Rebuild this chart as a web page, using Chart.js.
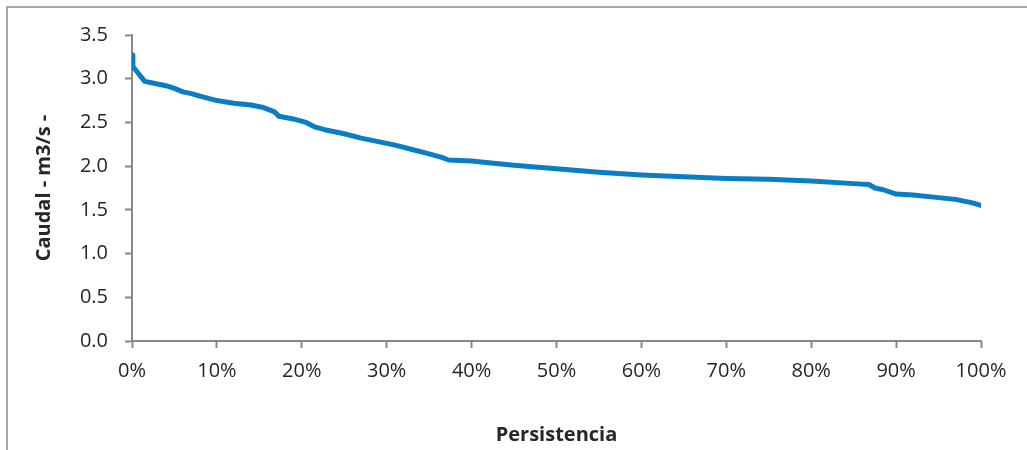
<!DOCTYPE html>
<html>
<head>
<meta charset="utf-8">
<script src="https://cdn.jsdelivr.net/npm/chart.js@4/dist/chart.umd.min.js"></script>
<style>
  html, body { margin: 0; padding: 0; background: #fff; }
  #wrap { width: 1027px; height: 450px; position: relative; }
</style>
</head>
<body>
<div id="wrap"><canvas id="c" width="1027" height="450"></canvas></div>
<script>
// Flow duration curve: persistence (% of time exceeded) vs. flow (m3/s)
const persistencia = [0, 0.1, 0.6, 1.0, 1.5, 2, 3, 4, 5, 6, 7, 8, 10, 12, 14, 15.5, 16.8, 17.3, 19, 20.5,
  21.5, 23, 25, 27, 29, 31, 33, 35, 36.5, 37.3, 40, 42, 45, 50, 55, 60, 65, 70, 75, 80,
  85, 86.8, 87.5, 88.5, 90, 92, 95, 97, 99, 100];
const caudal = [3.27, 3.14, 3.08, 3.03, 2.97, 2.96, 2.94, 2.92, 2.89, 2.85, 2.83, 2.80, 2.75, 2.72, 2.70, 2.67, 2.62, 2.57, 2.54, 2.50,
  2.45, 2.41, 2.37, 2.32, 2.28, 2.24, 2.19, 2.14, 2.10, 2.07, 2.06, 2.04, 2.01, 1.97, 1.93, 1.90, 1.88, 1.86, 1.85, 1.83,
  1.80, 1.79, 1.75, 1.73, 1.68, 1.67, 1.64, 1.62, 1.58, 1.55];
const xTicks = [0, 10, 20, 30, 40, 50, 60, 70, 80, 90, 100];
const yTicks = [0, 0.5, 1.0, 1.5, 2.0, 2.5, 3.0, 3.5];

const axisGray = '#888888';
const textColor = '#262626';
const fontFamily = '"Open Sans", Lato, sans-serif';

// thin frame along the top and left edges
const framePlugin = {
  id: 'frame',
  beforeDraw(chart) {
    const ctx = chart.ctx;
    ctx.save();
    ctx.strokeStyle = '#A6A6A6';
    ctx.lineWidth = 2;
    ctx.beginPath();
    ctx.moveTo(7, 450);
    ctx.lineTo(7, 7);
    ctx.lineTo(1027, 7);
    ctx.stroke();
    ctx.restore();
  }
};

new Chart(document.getElementById('c'), {
  type: 'line',
  data: {
    datasets: [{
      data: persistencia.map((p, i) => ({ x: p, y: caudal[i] })),
      borderColor: '#0B7DC5',
      borderWidth: 5,
      borderCapStyle: 'round',
      borderJoinStyle: 'round',
      pointRadius: 0,
      tension: 0,
      fill: false
    }]
  },
  plugins: [framePlugin],
  options: {
    responsive: false,
    animation: false,
    layout: { padding: { left: 0, right: 46, top: 35, bottom: 0 } },
    plugins: { legend: { display: false }, tooltip: { enabled: false } },
    scales: {
      x: {
        type: 'linear',
        min: 0, max: 100,
        afterBuildTicks(scale) { scale.ticks = xTicks.map(v => ({ value: v })); },
        afterFit(scale) { scale.height = 109; },
        grid: { display: true, drawOnChartArea: false, drawTicks: true, tickLength: 7, tickWidth: 2, color: axisGray },
        border: { display: true, color: axisGray, width: 2 },
        ticks: {
          color: textColor, font: { family: fontFamily, size: 20 }, padding: 11,
          maxRotation: 0,
          callback: v => v + '%'
        },
        title: {
          display: true, text: 'Persistencia', color: textColor,
          font: { family: fontFamily, size: 20, weight: 'bold' },
          padding: { top: 4, bottom: 3 }
        }
      },
      y: {
        type: 'linear',
        min: 0, max: 3.5,
        afterBuildTicks(scale) { scale.ticks = yTicks.map(v => ({ value: v })); },
        afterFit(scale) { scale.width = 132; },
        grid: { display: true, drawOnChartArea: false, drawTicks: true, tickLength: 7, tickWidth: 2, color: axisGray },
        border: { display: true, color: axisGray, width: 2 },
        ticks: {
          color: textColor, font: { family: fontFamily, size: 20 }, padding: 17,
          callback: v => Number(v).toFixed(1)
        },
        title: {
          display: true, text: 'Caudal - m3/s -', color: textColor,
          font: { family: fontFamily, size: 20, weight: 'bold' },
          padding: { top: 32, bottom: 0 }
        }
      }
    }
  }
});
</script>
</body>
</html>
